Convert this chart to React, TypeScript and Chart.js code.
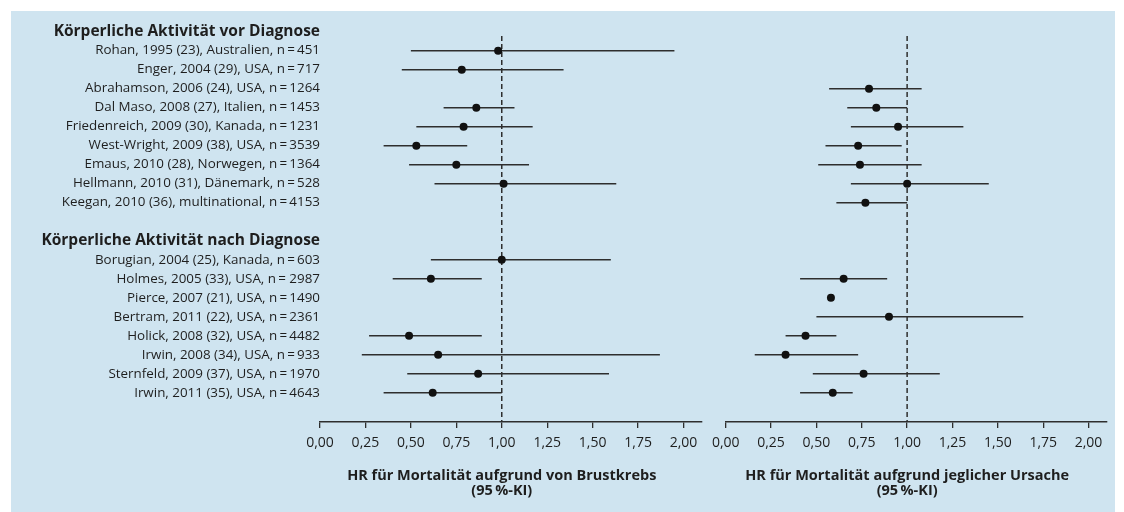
import React, { useEffect, useRef } from 'react';
import { Chart, registerables } from 'chart.js';

Chart.register(...registerables);

const rowLabels = [
  'Körperliche Aktivität vor Diagnose',
  'Rohan, 1995 (23), Australien, n\u2009=\u2009451',
  'Enger, 2004 (29), USA, n\u2009=\u2009717',
  'Abrahamson, 2006 (24), USA, n\u2009=\u20091264',
  'Dal Maso, 2008 (27), Italien, n\u2009=\u20091453',
  'Friedenreich, 2009 (30), Kanada, n\u2009=\u20091231',
  'West-Wright, 2009 (38), USA, n\u2009=\u20093539',
  'Emaus, 2010 (28), Norwegen, n\u2009=\u20091364',
  'Hellmann, 2010 (31), Dänemark, n\u2009=\u2009528',
  'Keegan, 2010 (36), multinational, n\u2009=\u20094153',
  '',
  'Körperliche Aktivität nach Diagnose',
  'Borugian, 2004 (25), Kanada, n\u2009=\u2009603',
  'Holmes, 2005 (33), USA, n\u2009= 2987',
  'Pierce, 2007 (21), USA, n\u2009=\u20091490',
  'Bertram, 2011 (22), USA, n\u2009=\u20092361',
  'Holick, 2008 (32), USA, n\u2009=\u20094482',
  'Irwin, 2008 (34), USA, n\u2009=\u2009933',
  'Sternfeld, 2009 (37), USA, n\u2009=\u20091970',
  'Irwin, 2011 (35), USA, n\u2009=\u20094643',
];
const headerRows = [0, 11];

// HR for breast cancer mortality (left panel)
const bcHr = [null, 0.98, 0.78, null, 0.86, 0.79, 0.53, 0.75, 1.01, null, null, null, 1.0, 0.61, null, null, 0.49, 0.65, 0.87, 0.62];
const bcLo = [null, 0.5, 0.45, null, 0.68, 0.53, 0.35, 0.49, 0.63, null, null, null, 0.61, 0.4, null, null, 0.27, 0.23, 0.48, 0.35];
const bcHi = [null, 1.95, 1.34, null, 1.07, 1.17, 0.81, 1.15, 1.63, null, null, null, 1.6, 0.89, null, null, 0.89, 1.87, 1.59, 1.0];

// HR for all-cause mortality (right panel)
const acHr = [null, null, null, 0.79, 0.83, 0.95, 0.73, 0.74, 1.0, 0.77, null, null, null, 0.65, 0.58, 0.9, 0.44, 0.33, 0.76, 0.59];
const acLo = [null, null, null, 0.57, 0.67, 0.69, 0.55, 0.51, 0.69, 0.61, null, null, null, 0.41, null, 0.5, 0.33, 0.16, 0.48, 0.41];
const acHi = [null, null, null, 1.08, 1.0, 1.31, 0.97, 1.08, 1.45, 1.0, null, null, null, 0.89, null, 1.64, 0.61, 0.73, 1.18, 0.7];

const tickValues = [0, 0.25, 0.5, 0.75, 1.0, 1.25, 1.5, 1.75, 2.0];
const tickLabels = ['0,00', '0,25', '0,50', '0,75', '1,00', '1,25', '1,50', '1,75', '2,00'];

const leftTitle = ['HR für Mortalität aufgrund von Brustkrebs', '(95\u2009%-KI)'];
const rightTitle = ['HR für Mortalität aufgrund jeglicher Ursache', '(95\u2009%-KI)'];

const refValue = 1;
const xMin = 0;
const xMax = 2.1;
const yMin = 0.23;
const yMax = 20.54;

const FONT = '"Open Sans"';
const TEXT = '#1e1e1e';
const LINE = '#2e2e2e';

function buildConfig(hr: (number | null)[], lo: (number | null)[], hi: (number | null)[], title: string[], withLabels: boolean, padLeft: number, padRight: number): any {
  const ciSets = hr
    .map((_, i) => i)
    .filter((i) => lo[i] != null && hi[i] != null)
    .map((i) => ({
      data: [{ x: lo[i], y: i }, { x: hi[i], y: i }],
      showLine: true,
      borderColor: LINE,
      borderWidth: 1.5,
      pointRadius: 0,
      order: 2,
    }));
  const refSet = {
    data: [{ x: refValue, y: yMin }, { x: refValue, y: yMax }],
    showLine: true,
    borderColor: LINE,
    borderWidth: 1.5,
    borderDash: [5, 3],
    pointRadius: 0,
    order: 3,
  };
  const pointSet = {
    data: hr.map((v, i) => (v == null ? null : { x: v, y: i })).filter((p) => p != null),
    backgroundColor: '#111111',
    borderWidth: 0,
    pointRadius: 4,
    order: 1,
  };
  const titlePlugin = {
    id: 'axisTitle',
    afterDraw(chart: any) {
      const xs = chart.scales.x;
      const c = chart.ctx;
      c.save();
      c.fillStyle = TEXT;
      c.font = `bold 14.5px ${FONT}`;
      c.textAlign = 'center';
      c.textBaseline = 'middle';
      const cx = xs.getPixelForValue(refValue);
      c.fillText(title[0], cx, xs.top + 54);
      c.fillText(title[1], cx, xs.top + 69);
      c.restore();
    },
  };
  return {
    type: 'scatter',
    data: { datasets: [refSet, ...ciSets, pointSet] },
    plugins: [titlePlugin],
    options: {
      animation: false,
      responsive: false,
      maintainAspectRatio: false,
      events: [],
      layout: { padding: { top: 25, left: padLeft, right: padRight, bottom: 0 } },
      plugins: { legend: { display: false }, tooltip: { enabled: false } },
      scales: {
        x: {
          type: 'linear',
          position: 'bottom',
          min: xMin,
          max: xMax,
          afterBuildTicks: (s: any) => {
            s.ticks = tickValues.map((v) => ({ value: v }));
          },
          afterFit: (s: any) => {
            s.height = 90;
          },
          grid: { display: true, drawOnChartArea: false, drawTicks: true, tickLength: 6, color: LINE, lineWidth: 1.3 },
          border: { display: true, color: LINE, width: 1.5 },
          ticks: {
            autoSkip: false,
            maxRotation: 0,
            padding: 7,
            color: TEXT,
            font: { family: FONT, size: 14 },
            callback: (_v: any, i: number) => tickLabels[i],
          },
        },
        y: {
          type: 'linear',
          reverse: true,
          min: yMin,
          max: yMax,
          display: withLabels,
          afterBuildTicks: (s: any) => {
            s.ticks = rowLabels.map((_, i) => ({ value: i }));
          },
          afterFit: (s: any) => {
            if (withLabels) s.width = 309;
          },
          grid: { display: false, drawTicks: false },
          border: { display: false },
          ticks: {
            autoSkip: false,
            padding: 0,
            color: TEXT,
            font: (ctx: any) =>
              headerRows.includes(ctx.index)
                ? { family: FONT, size: 15.5, weight: 'bold' }
                : { family: FONT, size: 13.4, weight: 'normal' },
            callback: (_v: any, i: number) => rowLabels[i],
          },
        },
      },
    },
  };
}

export default function App() {
  const leftRef = useRef<HTMLCanvasElement>(null);
  const rightRef = useRef<HTMLCanvasElement>(null);
  useEffect(() => {
    const a = new Chart(leftRef.current!, buildConfig(bcHr, bcLo, bcHi, leftTitle, true, 0, 9.3));
    const b = new Chart(rightRef.current!, buildConfig(acHr, acLo, acHi, rightTitle, false, 30.7, 8.3));
    return () => {
      a.destroy();
      b.destroy();
    };
  }, []);
  return (
    <div style={{ position: 'absolute', left: 0, top: 0, width: 1124, height: 512, background: '#ffffff', overflow: 'hidden' }}>
      <div style={{ position: 'absolute', left: 11, top: 11, width: 1104, height: 501, background: '#cfe4f0' }} />
      <canvas ref={leftRef} width={700} height={501} style={{ position: 'absolute', left: 11, top: 11, width: 700, height: 501 }} />
      <canvas ref={rightRef} width={420} height={501} style={{ position: 'absolute', left: 695, top: 11, width: 420, height: 501 }} />
    </div>
  );
}
